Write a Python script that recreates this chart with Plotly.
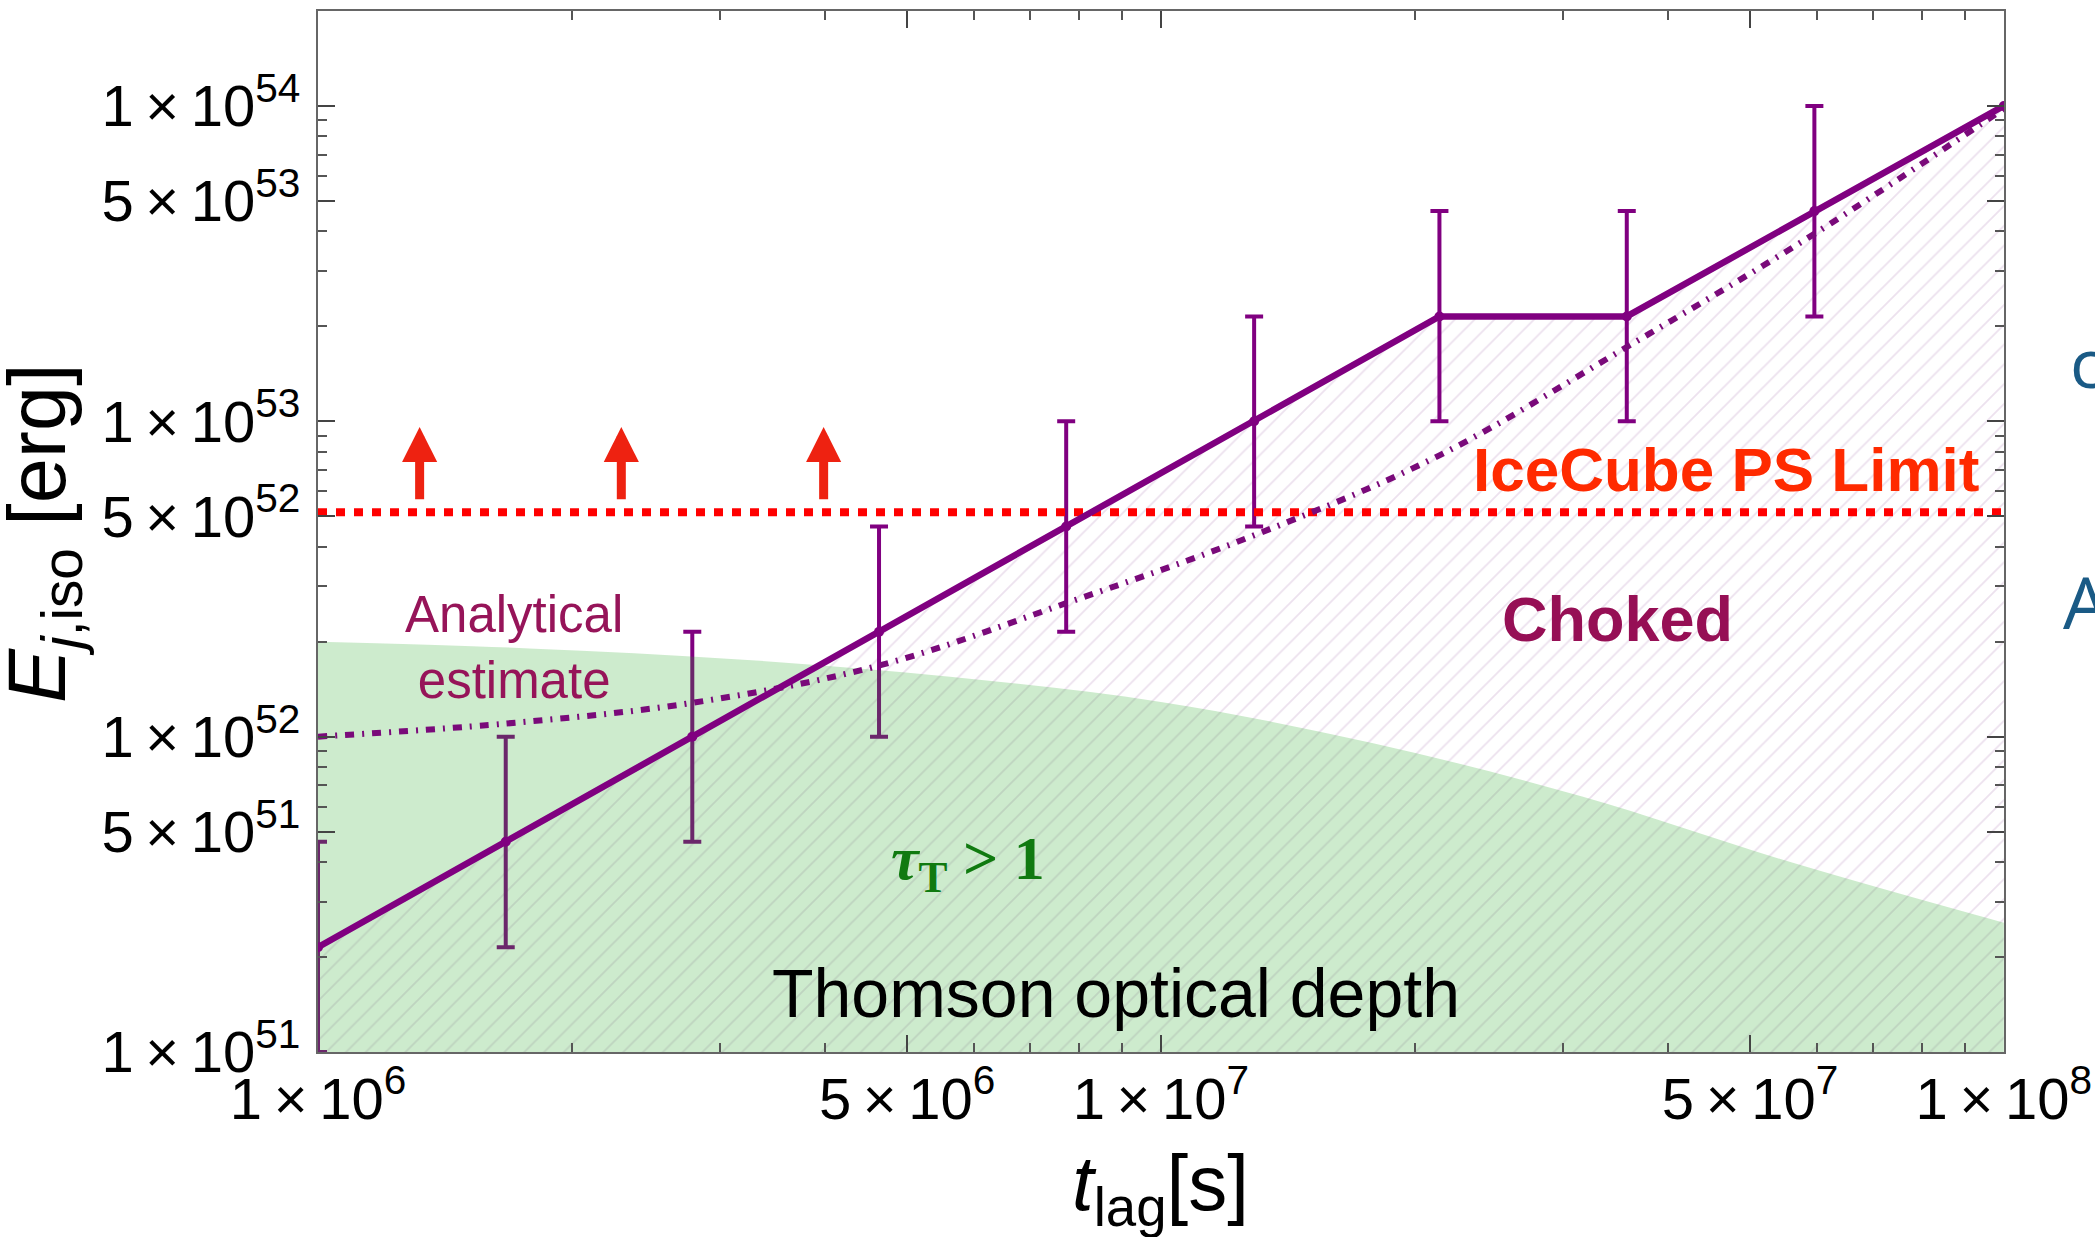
import numpy as np
import plotly.graph_objects as go

# ---------------------------------------------------------------
# Isotropic jet energy required for breakout vs. time lag
# ---------------------------------------------------------------
t_lag = [1.0e6, 1.67e6, 2.78e6, 4.63e6, 7.72e6, 1.29e7, 2.14e7, 3.57e7, 5.96e7, 1.0e8]
E_sim = [2.15e51, 4.64e51, 1.0e52, 2.15e52, 4.64e52, 1.0e53, 2.15e53, 2.15e53, 4.64e53, 1.0e54]

# error bars (first nine simulated points)
t_err = [1.0e6, 1.67e6, 2.78e6, 4.63e6, 7.72e6, 1.29e7, 2.14e7, 3.57e7, 5.96e7]
E_err = [2.15e51, 4.64e51, 1.0e52, 2.15e52, 4.64e52, 1.0e53, 2.15e53, 2.15e53, 4.64e53]
E_err_hi = [4.64e51, 1.0e52, 2.15e52, 4.64e52, 1.0e53, 2.15e53, 4.64e53, 4.64e53, 1.0e54]
E_err_lo = [1.0e51, 2.15e51, 4.64e51, 1.0e52, 2.15e52, 4.64e52, 1.0e53, 1.0e53, 2.15e53]

# analytical estimate (dash-dotted curve)
E_analytic = [1.0e52, 1.1e52, 1.28e52, 1.68e52, 2.65e52, 4.35e52, 7.8e52, 1.72e53, 3.93e53, 9.8e53]

# Thomson optical depth tau_T = 1 boundary
t_thomson = [1.0e6, 1.78e6, 3.16e6, 5.62e6, 1.0e7, 1.78e7, 3.16e7, 5.62e7, 1.0e8]
E_thomson = [2.0e52, 1.905e52, 1.758e52, 1.549e52, 1.288e52, 9.55e51, 6.46e51, 3.98e51, 2.57e51]

# IceCube point-source limit and lower-limit arrows
E_icecube = 5.15e52
t_arrows = [1.32e6, 2.29e6, 3.98e6]
E_arrow_base = 5.6e52
E_arrow_tip = 9.6e52

x_tickvals = [1e6, 5e6, 1e7, 5e7, 1e8]
x_ticktext = ["1\u2009×\u200910<sup>6</sup>", "5\u2009×\u200910<sup>6</sup>",
              "1\u2009×\u200910<sup>7</sup>", "5\u2009×\u200910<sup>7</sup>",
              "1\u2009×\u200910<sup>8</sup>"]
y_tickvals = [1e51, 5e51, 1e52, 5e52, 1e53, 5e53, 1e54]
y_ticktext = ["1\u2009×\u200910<sup>51</sup>", "5\u2009×\u200910<sup>51</sup>",
              "1\u2009×\u200910<sup>52</sup>", "5\u2009×\u200910<sup>52</sup>",
              "1\u2009×\u200910<sup>53</sup>", "5\u2009×\u200910<sup>53</sup>",
              "1\u2009×\u200910<sup>54</sup>"]

x_minor = [m * 10.0 ** k for k in (6, 7) for m in (2, 3, 4, 6, 7, 8, 9)]
y_minor = [m * 10.0 ** k for k in (51, 52, 53) for m in (2, 3, 4, 6, 7, 8, 9)]

PURPLE = "#800080"
FLOOR = 1e50  # below the visible range, closes filled areas

fig = go.Figure()

# choked region: everything below the simulated curve (light purple hatch)
fig.add_trace(go.Scatter(
    x=t_lag + [t_lag[-1], t_lag[0]],
    y=E_sim + [FLOOR, FLOOR],
    mode="lines", line=dict(width=0), fill="toself",
    fillpattern=dict(shape="/", fgcolor="#dac4de", bgcolor="rgba(0,0,0,0)",
                     size=14, solidity=0.13),
    hoverinfo="skip", showlegend=False,
))

# simulation error bars (sit under the translucent green layer)
fig.add_trace(go.Scatter(
    x=t_err, y=E_err, mode="markers",
    marker=dict(size=1, color=PURPLE, opacity=0),
    error_y=dict(type="data", symmetric=False,
                 array=[h - c for h, c in zip(E_err_hi, E_err)],
                 arrayminus=[c - l for c, l in zip(E_err, E_err_lo)],
                 color=PURPLE, thickness=4, width=9),
    hoverinfo="skip", showlegend=False,
))

# optically thick region (translucent green): smooth boundary, filled down to the floor
fig.add_trace(go.Scatter(
    x=t_thomson, y=E_thomson, mode="lines",
    line=dict(width=0, shape="spline", color="rgba(0,0,0,0)"),
    hoverinfo="skip", showlegend=False,
))
fig.add_trace(go.Scatter(
    x=[t_thomson[0], t_thomson[-1]], y=[FLOOR, FLOOR], mode="lines",
    line=dict(width=0, color="rgba(0,0,0,0)"), fill="tonexty",
    fillcolor="rgba(37,168,37,0.23)",
    hoverinfo="skip", showlegend=False,
))

# IceCube PS limit
fig.add_trace(go.Scatter(
    x=[t_lag[0], t_lag[-1]], y=[E_icecube, E_icecube],
    mode="lines", line=dict(color="#ff0000", width=8, dash="9px,9px"),
    hoverinfo="skip", showlegend=False,
))

# analytical estimate
fig.add_trace(go.Scatter(
    x=t_lag, y=E_analytic, mode="lines",
    line=dict(color="#7a0a7a", width=6, dash="9px,8px,2px,8px", shape="spline"),
    hoverinfo="skip", showlegend=False,
))

# simulation results
fig.add_trace(go.Scatter(
    x=t_lag, y=E_sim, mode="lines+markers",
    line=dict(color=PURPLE, width=6.5),
    marker=dict(color=PURPLE, size=10),
    hoverinfo="skip", showlegend=False,
))

annotations = []

# upward arrows above the IceCube limit
for ta in t_arrows:
    annotations.append(dict(
        x=float(np.log10(ta)), y=float(np.log10(E_arrow_tip)),
        ax=float(np.log10(ta)), ay=float(np.log10(E_arrow_base)),
        xref="x", yref="y", axref="x", ayref="y",
        text="", showarrow=True, arrowhead=2, arrowsize=0.78,
        arrowwidth=9, arrowcolor="#ee2211", standoff=0,
    ))

L, R, T, B = 318, 2004, 11, 1052


def px(xp, yp):
    return (xp - L) / (R - L), (B - yp) / (B - T)


def label(text, xp, yp, size, color, family="Liberation Sans, Arial, sans-serif",
          xanchor="center", angle=0):
    x, y = px(xp, yp)
    annotations.append(dict(
        x=x, y=y, xref="paper", yref="paper", text=text, showarrow=False,
        xanchor=xanchor, yanchor="middle", textangle=angle,
        font=dict(size=size, color=color, family=family),
    ))


label("<b>IceCube PS Limit</b>", 1981, 470, 62, "#ff2a00", xanchor="right")
label("<b>Choked</b>", 1617, 619, 63, "#960f55")
label("Analytical<br>estimate", 514, 647, 51, "#961459")
label("<b><i>τ</i><sub>T</sub> > 1</b>", 968, 862, 62, "#107a10",
      family="Liberation Serif, Times New Roman, serif")
label("Thomson optical depth", 1116, 993, 68, "#000000")

# axis titles
label("<i>E</i><sub><i>j</i>,iso</sub> [erg]", 43, 534, 81, "#000000", angle=-90)
label("<i>t</i><sub>lag</sub>[s]", 1160, 1188, 78, "#000000")

# text continuing beyond the right edge of the page
label("c", 2068, 361, 68, "#1a5a85", family="Open Sans, sans-serif", xanchor="left")
label("A", 2061, 601, 72, "#1a5a85", family="Open Sans, sans-serif", xanchor="left")

axis_common = dict(
    type="log", showgrid=False, zeroline=False, automargin=False,
    showline=True, linecolor="#666666", linewidth=2, mirror="allticks",
    ticks="inside", ticklen=17, tickwidth=2, tickcolor="#444444",
    ticklabeloverflow="allow",
    tickfont=dict(size=58, color="#000000", family="Liberation Sans, Arial, sans-serif"),
)

fig.update_layout(
    width=2095, height=1237,
    margin=dict(l=L, r=2095 - R, t=T, b=1237 - B),
    paper_bgcolor="white", plot_bgcolor="white",
    xaxis=dict(range=[6, 8.0002], tickmode="array", tickvals=x_tickvals, ticktext=x_ticktext,
               minor=dict(tickmode="array", tickvals=x_minor, ticks="inside",
                          ticklen=9, tickwidth=1.5, tickcolor="#555555"),
               ticklabelstandoff=-5, **axis_common),
    yaxis=dict(range=[51, float(np.log10(2e54))], tickmode="array", tickvals=y_tickvals,
               ticktext=y_ticktext,
               minor=dict(tickmode="array", tickvals=y_minor, ticks="inside",
                          ticklen=9, tickwidth=1.5, tickcolor="#555555"),
               ticklabelstandoff=4, **axis_common),
    annotations=annotations,
)

fig.write_html("out.html")
